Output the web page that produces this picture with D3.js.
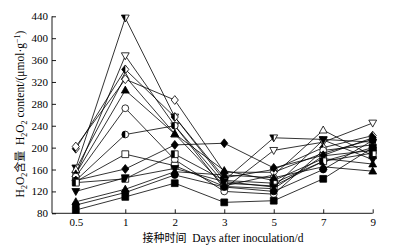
<!DOCTYPE html>
<html>
<head>
<meta charset="utf-8">
<script src="https://cdn.jsdelivr.net/npm/d3@7"></script>
<style>
  body { margin: 0; background: #fff; }
  svg { display: block; }
</style>
</head>
<body>
<div class="canvas"></div>
<script>
// sampling days (categorical, evenly spaced)
const days = ['0.5', '1', '2', '3', '5', '7', '9'];
const yTicks = [80, 120, 160, 200, 240, 280, 320, 360, 400, 440];

// H2O2 content per treatment
const sA = [163, 437, 256, 140, 218, 215, 210]; // half down-triangle
const sB = [150, 368, 240, 125, 195, 210, 245]; // open down-triangle
const sC = [198, 343, 256, 145, 160, 200, 222]; // half diamond
const sD = [160, 330, 225, 130, 150, 232, 185]; // open triangle
const sE = [202, 325, 287, 155, 155, 190, 215]; // open diamond
const sF = [152, 305, 225, 158, 140, 180, 170]; // filled triangle
const sG = [147, 272, 178, 120, 115, 195, 205]; // open circle
const sH = [140, 224, 240, 135, 130, 175, 200]; // half circle
const sI = [138, 188, 167, 129, 125, 185, 195]; // open square
const sJ = [140, 161, 205, 208, 163, 186, 218]; // filled diamond
const sK = [136, 143, 188, 140, 135, 175, 190]; // half square
const sL = [120, 145, 162, 138, 128, 214, 178]; // filled down-triangle
const sM = [101, 124, 156, 150, 145, 165, 157]; // filled triangle (low)
const sN = [95, 118, 150, 128, 120, 160, 213]; // filled circle
const sO = [86, 110, 135, 100, 103, 143, 200]; // filled square

const series = [
  { v: sA, shape: 'tdown', fill: 'half' },
  { v: sB, shape: 'tdown', fill: 'open' },
  { v: sC, shape: 'diamond', fill: 'half' },
  { v: sD, shape: 'tup', fill: 'open' },
  { v: sE, shape: 'diamond', fill: 'open' },
  { v: sF, shape: 'tup', fill: 'full' },
  { v: sG, shape: 'circle', fill: 'open' },
  { v: sH, shape: 'circle', fill: 'half' },
  { v: sI, shape: 'square', fill: 'open' },
  { v: sJ, shape: 'diamond', fill: 'full' },
  { v: sK, shape: 'square', fill: 'half' },
  { v: sL, shape: 'tdown', fill: 'full' },
  { v: sM, shape: 'tup', fill: 'full' },
  { v: sN, shape: 'circle', fill: 'full' },
  { v: sO, shape: 'square', fill: 'full' }
];

const W = 394, H = 249;
const svg = d3.select('.canvas').append('svg')
  .attr('width', W).attr('height', H);

const x = d3.scalePoint().domain(days).range([75.8, 372.7]);
const y = d3.scaleLinear().domain([80, 440]).range([213.3, 16.3]);
const x0 = 52;

// lines first
const line = d3.line().x((d, i) => x(days[i])).y(d => y(d));
svg.append('g').selectAll('path')
  .data(series).enter().append('path')
  .attr('d', d => line(d.v))
  .attr('fill', 'none')
  .attr('stroke', '#000')
  .attr('stroke-width', 0.8);

// marker shapes
const r = 3.4;
function outline(shape) {
  switch (shape) {
    case 'square': return `M${-r},${-r}h${2 * r}v${2 * r}h${-2 * r}Z`;
    case 'circle': return `M0,${-r}A${r},${r} 0 1 1 0,${r}A${r},${r} 0 1 1 0,${-r}Z`;
    case 'diamond': return `M0,${-1.3 * r}L${1.05 * r},0L0,${1.3 * r}L${-1.05 * r},0Z`;
    case 'tup': return `M0,${-1.2 * r}L${1.15 * r},${0.85 * r}L${-1.15 * r},${0.85 * r}Z`;
    case 'tdown': return `M0,${1.2 * r}L${1.15 * r},${-0.85 * r}L${-1.15 * r},${-0.85 * r}Z`;
  }
}
function leftHalf(shape) {
  switch (shape) {
    case 'square': return `M${-r},${-r}h${r}v${2 * r}h${-r}Z`;
    case 'circle': return `M0,${-r}A${r},${r} 0 0 0 0,${r}Z`;
    case 'diamond': return `M0,${-1.3 * r}L${-1.05 * r},0L0,${1.3 * r}Z`;
    case 'tup': return `M0,${-1.2 * r}L0,${0.85 * r}L${-1.15 * r},${0.85 * r}Z`;
    case 'tdown': return `M0,${1.2 * r}L0,${-0.85 * r}L${-1.15 * r},${-0.85 * r}Z`;
  }
}

const mk = svg.append('g');
series.forEach(s => {
  s.v.forEach((val, i) => {
    const g = mk.append('g')
      .attr('transform', `translate(${x(days[i])},${y(val)})`);
    g.append('path')
      .attr('d', outline(s.shape))
      .attr('fill', s.fill === 'full' ? '#000' : '#fff')
      .attr('stroke', '#000')
      .attr('stroke-width', 0.8);
    if (s.fill === 'half') {
      g.append('path').attr('d', leftHalf(s.shape)).attr('fill', '#000');
    }
  });
});

// axes
const font = '"Liberation Serif", "Times New Roman", serif';
const yAxis = d3.axisLeft(y).tickValues(yTicks).tickSizeInner(-4).tickSizeOuter(0).tickPadding(4);
const yg = svg.append('g').attr('transform', `translate(${x0},0)`).call(yAxis);
yg.select('.domain').remove();
yg.append('line').attr('x1', 0).attr('x2', 0).attr('y1', y(440)).attr('y2', y(80))
  .attr('stroke', '#000').attr('stroke-width', 0.9);

const xAxis = d3.axisBottom(x).tickSizeInner(-4).tickSizeOuter(0).tickPadding(5);
const xg = svg.append('g').attr('transform', `translate(0,${y(80)})`).call(xAxis);
xg.select('.domain').remove();
xg.append('line').attr('x1', x0).attr('x2', x('9')).attr('y1', 0).attr('y2', 0)
  .attr('stroke', '#000').attr('stroke-width', 0.9);

svg.selectAll('.tick line').attr('stroke', '#000').attr('stroke-width', 0.9);
svg.selectAll('.tick text')
  .attr('font-family', font).attr('font-size', 11).attr('fill', '#000');

// axis titles
const cjk = '"Noto Sans CJK SC", sans-serif';
const yl = svg.append('text')
  .attr('transform', 'translate(24,114) rotate(-90)')
  .attr('text-anchor', 'middle')
  .attr('font-family', font).attr('font-size', 11.5).attr('fill', '#000');
yl.append('tspan').text('H');
yl.append('tspan').text('2').attr('font-size', 8).attr('dy', 3);
yl.append('tspan').text('O').attr('dy', -3);
yl.append('tspan').text('2').attr('font-size', 8).attr('dy', 3);
yl.append('tspan').text('含量').attr('dy', -3).attr('font-family', cjk).attr('font-size', 11);
yl.append('tspan').text('  H').attr('xml:space', 'preserve');
yl.append('tspan').text('2').attr('font-size', 8).attr('dy', 3);
yl.append('tspan').text('O').attr('dy', -3);
yl.append('tspan').text('2').attr('font-size', 8).attr('dy', 3);
yl.append('tspan').text(' content/(μmol·g').attr('dy', -3);
yl.append('tspan').text('−1').attr('font-size', 8).attr('dy', -4);
yl.append('tspan').text(')').attr('dy', 4);

const xl = svg.append('text')
  .attr('x', 223).attr('y', 242)
  .attr('text-anchor', 'middle')
  .attr('font-family', font).attr('font-size', 11.5).attr('fill', '#000');
xl.append('tspan').text('接种时间').attr('font-family', cjk).attr('font-size', 11);
xl.append('tspan').text('  Days after inoculation/d').attr('xml:space', 'preserve');
</script>
</body>
</html>
